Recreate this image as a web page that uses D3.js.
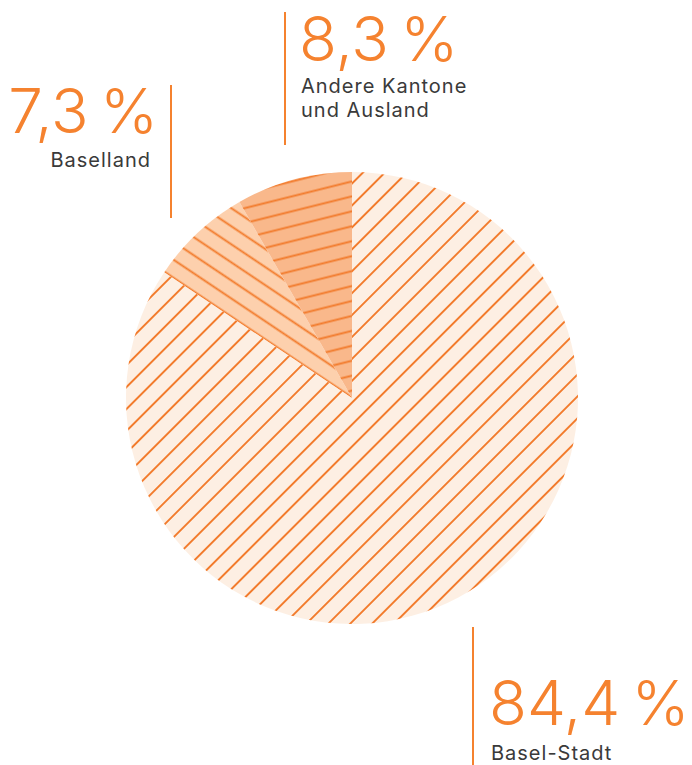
<!DOCTYPE html>
<meta charset="utf-8">
<style>
  body { margin: 0; background: #fff; }
  svg text { font-family: Inter, "Noto Sans", sans-serif; }
</style>
<body>
<script src="https://cdn.jsdelivr.net/npm/d3@7"></script>
<script>

    var width = 692,
        height = 765;

    // data
    var regions = ["Basel-Stadt", "Baselland", "Andere Kantone und Ausland"];
    var shares = [84.4, 7.3, 8.3];
    var shareText = ["84,4\u2009%", "7,3\u2009%", "8,3\u2009%"];
    var labelLines = [["Basel-Stadt"], ["Baselland"], ["Andere Kantone", "und Ausland"]];

    var fills = ["#fdefe3", "#fdd0ad", "#f9b88b"];
    var lineColor = "#f27b2c";
    var orange = "#f5822f";

    var cx = 352, cy = 398, radius = 226;

    var svg = d3.select("body").append("svg")
            .attr("width", width)
            .attr("height", height);

    var pie = d3.pie().sort(null).value(function(d) { return d; });
    var arcs = pie(shares);

    var arc = d3.arc().innerRadius(0).outerRadius(radius);

    // hatch angle for each slice (deg, screen rotation of the lines)
    var hatch = [
        { rot: -45, gap: 15.5 },
        { rot: (arcs[1].startAngle * 180 / Math.PI - 90) % 180, gap: 15 },
        { rot: -14, gap: 14.5 }
    ];

    var defs = svg.append("defs");
    hatch.forEach(function(h, i) {
        var p = defs.append("pattern")
            .attr("id", "hatch" + i)
            .attr("patternUnits", "userSpaceOnUse")
            .attr("width", 20)
            .attr("height", h.gap)
            .attr("patternTransform", "translate(" + cx + "," + cy + ") rotate(" + h.rot + ") translate(0," + (-h.gap / 2) + ")");
        p.append("rect")
            .attr("width", 20).attr("height", h.gap)
            .attr("fill", fills[i]);
        p.append("line")
            .attr("x1", 0).attr("x2", 20)
            .attr("y1", h.gap / 2).attr("y2", h.gap / 2)
            .attr("stroke", lineColor)
            .attr("stroke-width", 1.9);
    });

    var g = svg.append("g").attr("transform", "translate(" + cx + "," + cy + ")");

    g.selectAll("path")
        .data(arcs)
        .enter().append("path")
        .attr("d", arc)
        .attr("fill", function(d, i) { return "url(#hatch" + i + ")"; });

    // labels: leader line + big number + name
    var layout = [
        { lx: 473, ly1: 627, ly2: 765, x: 489, y: 725, anchor: "start", ny: 760 },
        { lx: 171, ly1: 85, ly2: 218, x: 158, y: 133, anchor: "end", ny: 167 },
        { lx: 285, ly1: 12, ly2: 145, x: 299, y: 61, anchor: "start", ny: 93 }
    ];

    var labels = svg.selectAll("g.label")
        .data(regions)
        .enter().append("g")
        .attr("class", "label");

    labels.append("line")
        .attr("x1", function(d, i) { return layout[i].lx; })
        .attr("x2", function(d, i) { return layout[i].lx; })
        .attr("y1", function(d, i) { return layout[i].ly1; })
        .attr("y2", function(d, i) { return layout[i].ly2; })
        .attr("stroke", orange)
        .attr("stroke-width", 2);

    labels.append("text")
        .attr("x", function(d, i) { return layout[i].x; })
        .attr("y", function(d, i) { return layout[i].y; })
        .attr("text-anchor", function(d, i) { return layout[i].anchor; })
        .attr("fill", orange)
        .attr("font-size", 62)
        .attr("font-weight", 300)
        .text(function(d, i) { return shareText[i]; });

    labels.each(function(d, i) {
        var x = layout[i].x + (layout[i].anchor == "end" ? -7 : 2);
        var t = d3.select(this).append("text")
            .attr("x", x)
            .attr("y", layout[i].ny)
            .attr("text-anchor", layout[i].anchor)
            .attr("fill", "#3a3a3a")
            .attr("font-size", 20)
            .attr("letter-spacing", 1);
        labelLines[i].forEach(function(s, k) {
            t.append("tspan")
                .attr("x", x)
                .attr("dy", k == 0 ? 0 : 24)
                .text(s);
        });
    });

</script>
